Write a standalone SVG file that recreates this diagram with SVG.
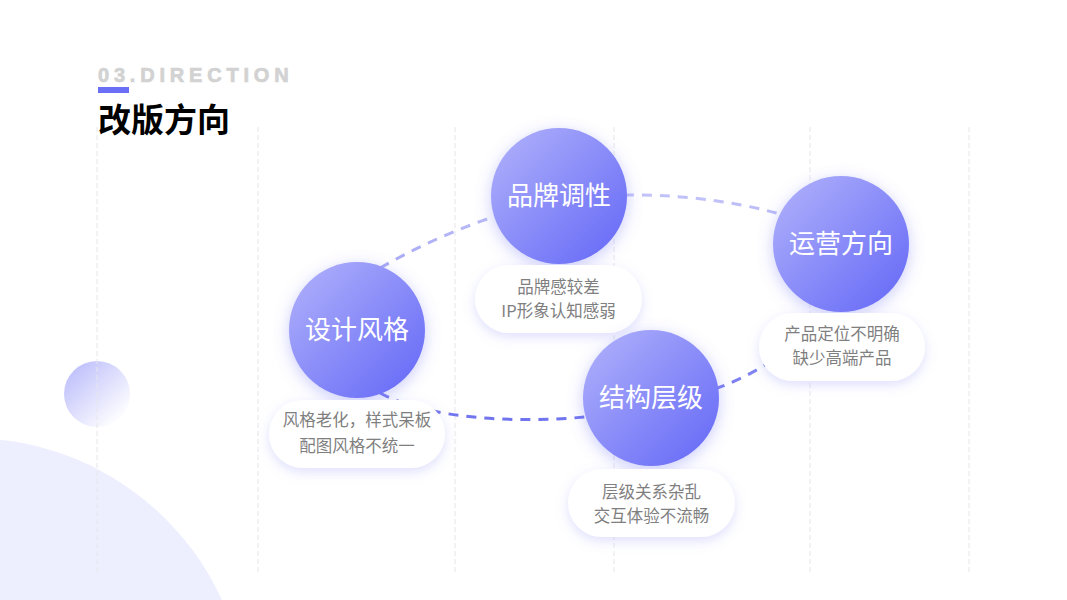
<svg xmlns="http://www.w3.org/2000/svg" width="1067" height="600" viewBox="0 0 1067 600">
  <defs>
    <linearGradient id="gNode" x1="0" y1="0" x2="1" y2="1">
      <stop offset="0" stop-color="#b2b3fb"/>
      <stop offset="1" stop-color="#6266f6"/>
    </linearGradient>
    <linearGradient id="gSmall" x1="0.15" y1="0.15" x2="0.85" y2="0.9">
      <stop offset="0" stop-color="#c2c3fb"/>
      <stop offset="1" stop-color="#ffffff"/>
    </linearGradient>
    <linearGradient id="gLine" gradientUnits="userSpaceOnUse" x1="0" y1="190" x2="0" y2="425">
      <stop offset="0" stop-color="#c3c4f8"/>
      <stop offset="1" stop-color="#6e72ee"/>
    </linearGradient>
    <filter id="fNode" x="-40%" y="-40%" width="180%" height="180%">
      <feDropShadow dx="0" dy="4" stdDeviation="8" flood-color="#6c70f5" flood-opacity="0.35"/>
    </filter>
    <filter id="fPill" x="-30%" y="-40%" width="160%" height="190%">
      <feDropShadow dx="0" dy="4" stdDeviation="6" flood-color="#8b8ef5" flood-opacity="0.28"/>
    </filter>
    <style>
      .grid { stroke: #e6e6ea; stroke-width: 1; stroke-dasharray: 5 3; fill: none; }
      .node { fill: url(#gNode); filter: url(#fNode); }
      .pill { fill: #ffffff; filter: url(#fPill); }
      .ntext { font-family: "Noto Sans CJK SC", "Noto Sans", sans-serif; font-size: 26px; fill: #ffffff; text-anchor: middle; }
      .ptext { font-family: "Noto Sans CJK SC", "Noto Sans", sans-serif; font-size: 16.5px; fill: #7f7f7f; text-anchor: middle; }
      .conn { fill: none; stroke: url(#gLine); stroke-width: 3; stroke-dasharray: 10 8; }
    </style>
  </defs>

  <rect x="0" y="0" width="1067" height="600" fill="#ffffff"/>

  <!-- background decorations -->
  <circle cx="-30" cy="715" r="277" fill="#eeeffe"/>
  <circle cx="97" cy="394" r="33" fill="url(#gSmall)"/>

  <!-- grid lines -->
  <g id="grid">
    <line class="grid" x1="97" y1="127" x2="97" y2="575"/>
    <line class="grid" x1="258" y1="127" x2="258" y2="575"/>
    <line class="grid" x1="455" y1="127" x2="455" y2="575"/>
    <line class="grid" x1="614" y1="127" x2="614" y2="575"/>
    <line class="grid" x1="810" y1="127" x2="810" y2="575"/>
    <line class="grid" x1="969" y1="127" x2="969" y2="575"/>
  </g>

  <!-- header -->
  <g id="header">
    <text x="98" y="82" font-family="Liberation Sans, Arial, sans-serif" font-weight="bold" font-size="20" letter-spacing="4.8" fill="#d2d2d2" stroke="#d2d2d2" stroke-width="0.7">03.DIRECTION</text>
    <rect x="98" y="87" width="31" height="6" fill="#6b6ff5"/>
    <text x="98" y="132" font-family="Noto Sans CJK SC, sans-serif" font-weight="bold" font-size="33" fill="#000000">改版方向</text>
  </g>

  <!-- connectors -->
  <g id="connectors">
    <path class="conn" d="M 380 268 C 415 248, 450 232, 490 218"/>
    <path class="conn" d="M 624 195 C 670 194, 730 200, 780 214"/>
    <path class="conn" d="M 380 393 C 430 420, 520 423, 585 417"/>
    <path class="conn" d="M 715 389 C 735 382, 752 373, 767 364"/>
  </g>

  <!-- nodes -->
  <g id="node-design">
    <circle class="node" cx="357" cy="330" r="68"/>
    <text class="ntext" x="357" y="339">设计风格</text>
    <rect class="pill" x="269" y="400" width="176" height="68" rx="34"/>
    <text class="ptext" x="357" y="426">风格老化，样式呆板</text>
    <text class="ptext" x="357" y="452">配图风格不统一</text>
  </g>

  <g id="node-brand">
    <circle class="node" cx="559" cy="196" r="68"/>
    <text class="ntext" x="559" y="205">品牌调性</text>
    <rect class="pill" x="475" y="265" width="167" height="68" rx="34"/>
    <text class="ptext" x="558.5" y="293">品牌感较差</text>
    <text class="ptext" x="558.5" y="317">IP形象认知感弱</text>
  </g>

  <g id="node-structure">
    <circle class="node" cx="651" cy="398" r="68"/>
    <text class="ntext" x="651" y="407">结构层级</text>
    <rect class="pill" x="568" y="469" width="167" height="68" rx="34"/>
    <text class="ptext" x="651.5" y="498">层级关系杂乱</text>
    <text class="ptext" x="651.5" y="522">交互体验不流畅</text>
  </g>

  <g id="node-operation">
    <circle class="node" cx="841" cy="244" r="68"/>
    <text class="ntext" x="841" y="253">运营方向</text>
    <rect class="pill" x="759" y="313" width="166" height="68" rx="34"/>
    <text class="ptext" x="842" y="340">产品定位不明确</text>
    <text class="ptext" x="842" y="364">缺少高端产品</text>
  </g>
</svg>
